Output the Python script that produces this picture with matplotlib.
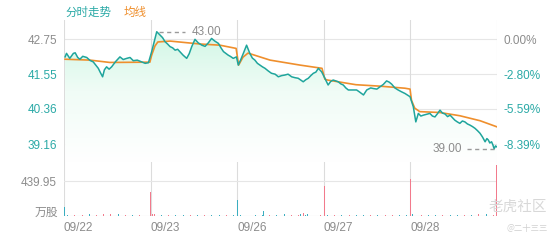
import matplotlib.pyplot as plt
import matplotlib.colors as mcolors
import numpy as np

# price trace (minute index over 5 sessions of 240 min)
price_min = [3, 7, 16, 26, 31, 38, 44, 52, 63, 72, 81, 95, 101, 107, 112, 118, 125, 132, 143,
             155, 164, 174, 183, 192, 203, 215, 225, 234,
             243, 257, 266, 273, 280, 287, 294, 301, 308, 315, 321, 330, 340, 347, 354, 363, 372,
             382, 391, 400, 409, 418, 428, 435, 442, 455, 462, 469, 478,
             483, 490, 497, 506, 515, 522, 529, 536, 543, 550, 557, 566, 575, 585, 594, 603, 612,
             621, 631, 640, 649, 656, 663, 670, 677, 684, 691, 698, 705, 714,
             723, 732, 739, 746, 760, 767, 774, 781, 788, 802, 811, 818, 830, 839, 850, 857, 867,
             876, 885, 894, 901, 908, 917, 926, 935, 945, 959,
             968, 975, 982, 989, 996, 1005, 1014, 1021, 1028, 1035, 1042, 1049, 1056, 1063, 1070,
             1083, 1090, 1097, 1104, 1111, 1118, 1125, 1132, 1139, 1146, 1153, 1160, 1167, 1172,
             1176, 1180, 1185, 1189, 1192, 1196, 1199]
price = [42.14, 42.26, 42.09, 42.26, 42.28, 42.12, 42.06, 42.16, 42.12, 42.02, 41.97, 41.75, 41.60,
         41.46, 41.70, 41.80, 41.72, 41.80, 41.98, 42.14, 42.05, 42.09, 42.12, 42.01, 42.03, 41.97,
         41.92, 41.94,
         42.32, 43.00, 42.89, 42.80, 42.66, 42.58, 42.49, 42.45, 42.37, 42.40, 42.32, 42.20, 42.09,
         42.25, 42.49, 42.74, 42.62, 42.54, 42.50, 42.62, 42.77, 42.68, 42.60, 42.45, 42.32, 42.20,
         42.15, 42.09, 42.14,
         41.86, 42.05, 42.26, 42.54, 42.26, 42.10, 42.03, 41.92, 41.86, 41.80, 41.75, 41.66, 41.58,
         41.55, 41.46, 41.50, 41.52, 41.55, 41.46, 41.43, 41.41, 41.35, 41.29, 41.36, 41.41, 41.50,
         41.58, 41.62, 41.75, 41.63,
         41.41, 41.18, 41.30, 41.35, 41.29, 41.22, 41.18, 41.08, 41.01, 41.01, 41.01, 40.95, 40.84,
         41.01, 41.08, 41.06, 41.04, 41.12, 41.20, 41.32, 41.28, 41.21, 41.08, 41.01, 40.95, 40.89,
         40.78,
         40.44, 39.92, 40.21, 40.12, 40.15, 40.18, 40.21, 40.12, 40.09, 40.20, 40.32, 40.22, 40.19,
         40.10, 40.15, 39.98, 39.92, 39.87, 39.95, 39.92, 39.85, 39.81, 39.76, 39.70, 39.62, 39.53,
         39.40, 39.24, 39.35, 39.30, 39.20, 39.24, 39.12, 39.00, 39.10, 39.07]

avg_min = [3, 72, 127, 238,
           243, 252, 260, 294, 377, 432, 477,
           484, 496, 510, 571, 654, 715,
           723, 730, 809, 876, 945, 959,
           963, 972, 986, 1042, 1097, 1153, 1200]
avg_price = [42.06, 42.03, 41.95, 41.96,
             42.20, 42.51, 42.65, 42.68, 42.58, 42.54, 42.43,
             41.86, 42.13, 42.27, 42.03, 41.86, 41.75,
             41.38, 41.35, 41.19, 41.14, 41.07, 41.04,
             40.66, 40.39, 40.27, 40.24, 40.13, 39.96, 39.75]

# volume (万股): spikes plus the small bars along the base
spike_min = [1, 241, 245, 481, 485, 510, 554, 655, 665, 675, 721, 961, 965, 970, 1199]
spike_vol = [110, 300, 30, 200, 25, 25, 65, 30, 35, 25, 375, 470, 30, 25, 640]
spike_up = [0, 1, 1, 0, 1, 1, 0, 0, 1, 0, 1, 1, 0, 0, 1]
base_vol = [15, 10, 12, 25, 18, 30, 20, 22, 12, 10, 14, 16,
            20, 12, 10, 14, 10, 12, 15, 10, 12, 14, 10, 12,
            18, 14, 12, 10, 14, 12, 20, 10, 14, 12, 16, 10,
            15, 12, 10, 8, 12, 14, 10, 12, 18, 16, 14, 12,
            20, 14, 12, 10, 12, 16, 14, 10, 18, 20, 22, 16]
base_up = [0, 1, 1, 0, 1, 1, 1, 0, 1, 0, 1, 0,
           1, 0, 1, 0, 0, 1, 0, 1, 0, 0, 1, 0,
           0, 1, 0, 0, 1, 0, 0, 1, 1, 0, 0, 1,
           0, 1, 0, 1, 0, 0, 1, 0, 1, 1, 0, 0,
           0, 1, 0, 0, 1, 0, 0, 1, 0, 1, 0, 1]

prev_close = 42.75
pct_ticks = [0.00, -2.80, -5.59, -8.39]
price_labels = ['42.75', '41.55', '40.36', '39.16']
pct_labels = ['0.00%', '-2.80%', '-5.59%', '-8.39%']
days = ['09/22', '09/23', '09/26', '09/27', '09/28']
vol_tick = 439.95

teal = '#1fa59c'
orange = '#ef8f2d'
gray = '#8c8c8c'
teal_txt = '#2aa9a6'
red_bar = '#f27a8c'
teal_bar = '#3aaec0'
grid_c = '#e6e6e6'
num_font = 'Liberation Sans'
cjk_font = ['Noto Sans CJK SC', 'DejaVu Sans']

fig = plt.figure(figsize=(5.6, 2.4), dpi=100)
ax = fig.add_axes([64 / 560, 1 - 162 / 240, 433 / 560, 142 / 240])
axv = fig.add_axes([64 / 560, 1 - 216 / 240, 433 / 560, 54 / 240])

ymin, ymax = 38.55, 43.40
ax.set_xlim(0, 1200)
ax.set_ylim(ymin, ymax)

# gradient fill under the price line
grad = mcolors.LinearSegmentedColormap.from_list('g', ['#ffffff', '#f0fcf6', '#cbf6e2'])
img = ax.imshow(np.linspace(0, 1, 200).reshape(-1, 1), cmap=grad, aspect='auto',
                extent=[0, 1200, ymin, ymax], origin='lower', zorder=1)
poly = ax.fill_between(price_min, price, ymin, color='none', lw=0)
img.set_clip_path(poly.get_paths()[0], transform=ax.transData)

ax.plot(price_min, price, color=teal, lw=1.1, zorder=4)
ax.plot(avg_min, avg_price, color=orange, lw=1.2, zorder=3)

# grid
price_ticks = [prev_close * (1 + p / 100) for p in pct_ticks]
for t in price_ticks:
    ax.axhline(t, color=grid_c, lw=0.8, zorder=0)
for a in (ax, axv):
    for d in range(6):
        a.axvline(d * 240, color='#dcdcdc', lw=0.8, zorder=0)
    for s in a.spines.values():
        s.set_visible(False)

ax.set_xticks([])
ax.set_yticks(price_ticks, labels=price_labels)
ax.tick_params(axis='y', length=0, pad=5)
for lab, p in zip(ax.get_yticklabels(), pct_ticks):
    lab.set_color(gray if p == 0 else teal_txt)
    lab.set_fontsize(8.5)
    lab.set_family(num_font)

axr = ax.twinx()
axr.set_ylim(ymin, ymax)
axr.set_yticks(price_ticks, labels=pct_labels)
axr.tick_params(axis='y', length=0, pad=5)
for s in axr.spines.values():
    s.set_visible(False)
for lab, p in zip(axr.get_yticklabels(), pct_ticks):
    lab.set_color(gray if p == 0 else teal_txt)
    lab.set_fontsize(8.5)
    lab.set_family(num_font)

# max / min markers
i_max = int(np.argmax(price))
i_min = int(np.argmin(price))
ax.plot([price_min[i_max] + 6, price_min[i_max] + 78], [price[i_max]] * 2,
        color='#9a9a9a', lw=1, dashes=(3, 2.5), zorder=5)
ax.text(price_min[i_max] + 98, price[i_max], '%.2f' % price[i_max], color=gray,
        fontsize=8.5, family=num_font, va='center', ha='left')
ax.plot([price_min[i_min] - 75, price_min[i_min] + 6], [price[i_min]] * 2,
        color='#9a9a9a', lw=1, dashes=(3, 2.5), zorder=5)
ax.text(price_min[i_min] - 88, price[i_min], '%.2f' % price[i_min], color=gray,
        fontsize=8.5, family=num_font, va='center', ha='right')

# volume
vol_x = spike_min + [d * 240 + 10 + k * 20 for d in range(5) for k in range(12)]
vol_y = spike_vol + base_vol
vol_c = [red_bar if u else teal_bar for u in spike_up + base_up]
axv.bar(vol_x, vol_y, width=2.6, color=vol_c, lw=0, zorder=2)
axv.set_xlim(0, 1200)
axv.set_ylim(0, 679)
axv.axhline(vol_tick, color=grid_c, lw=0.8, zorder=0)
axv.axhline(0, color='#d6d6d6', lw=0.8, zorder=1)
axv.set_yticks([vol_tick], labels=['%.2f' % vol_tick])
axv.set_xticks([d * 240 for d in range(5)], labels=days)
axv.tick_params(length=0, labelsize=8.5, labelcolor=gray)
axv.tick_params(axis='y', pad=5)
axv.tick_params(axis='x', pad=4)
for lab in axv.get_xticklabels():
    lab.set_ha('left')
    lab.set_family(num_font)
for lab in axv.get_yticklabels():
    lab.set_family(num_font)

fig.text(58 / 560, 1 - 212 / 240, '万股', ha='right', va='center', color=gray,
         fontsize=8.5, family=cjk_font)

# legend
fig.text(65 / 560, 1 - 12 / 240, '分时走势', color=teal_txt, fontsize=8.3, family=cjk_font,
         va='center')
fig.text(124 / 560, 1 - 12 / 240, '均线', color=orange, fontsize=8.3, family=cjk_font,
         va='center')

# watermark
fig.text(547 / 560, 1 - 207 / 240, '老虎社区', color='#d8d8d8', fontsize=10.5,
         family=cjk_font, ha='right', va='center')
fig.text(548 / 560, 1 - 228 / 240, '@二十三三', color='#d0d0d0', fontsize=6,
         family=cjk_font, ha='right', va='center')

fig.savefig('out.png', dpi=100, facecolor='white')
